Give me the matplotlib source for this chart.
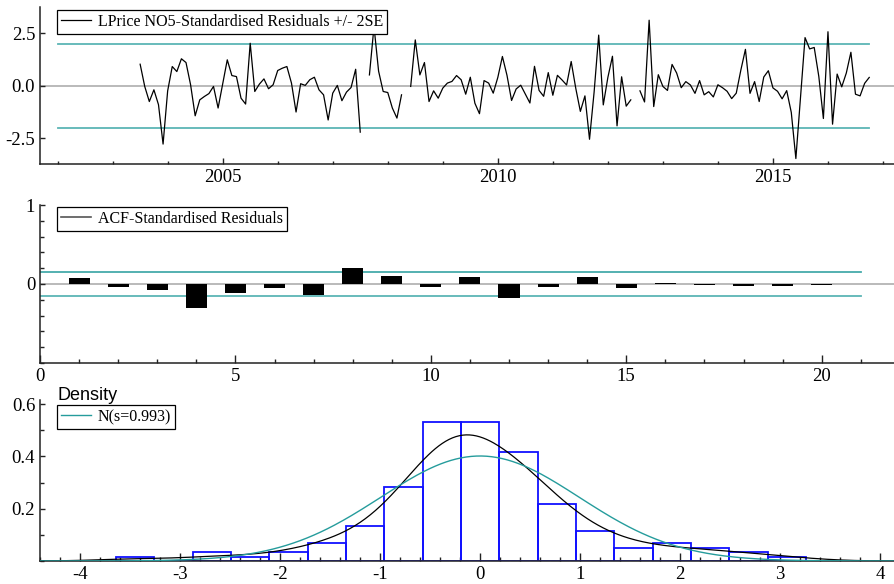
import numpy as np
import matplotlib
matplotlib.use("Agg")
import matplotlib.pyplot as plt
from matplotlib.ticker import MultipleLocator, FixedLocator

plt.rcParams['font.family'] = 'Liberation Serif'
plt.rcParams['axes.unicode_minus'] = False

# ----------------------------------------------
# Data
# ----------------------------------------------

# monthly standardised residuals, first obs 2003(7); nan = missing
start_year = 2003.5
resid = [
    1.03, -0.03, -0.75, -0.19, -0.90, -2.78, -0.24, 0.92, 0.68, 1.29,
    1.11, 0.05, -1.43, -0.67, -0.51, -0.37, -0.03, -1.06, 0.10, 1.24,
    0.49, 0.44, -0.59, -0.87, 2.03, -0.27, 0.08, 0.33, -0.14, 0.05,
    0.73, 0.84, 0.92, 0.13, -1.25, 0.10, 0.02, 0.29, 0.41, -0.19,
    -0.43, -1.63, -0.35, 0.02, -0.71, -0.30, -0.08, 0.79, -2.21, np.nan,
    0.52, 2.83, 0.70, -0.27, -0.32, -1.06, -1.54, -0.43, np.nan, -0.03,
    2.19, 0.52, 1.11, -0.75, -0.24, -0.59, -0.11, 0.13, 0.21, 0.49,
    0.29, -0.40, 0.41, -0.83, -1.33, 0.25, 0.13, -0.35, 0.40, 1.40,
    0.50, -0.70, -0.15, 0.03, -0.40, -0.82, 0.93, -0.22, -0.50, 0.63,
    -0.45, 0.50, 0.28, 0.04, 1.16, -0.12, -1.22, -0.48, -2.55, -0.30,
    2.42, -0.91, 0.40, 1.41, -1.91, 0.43, -0.97, -0.67, np.nan, -0.24,
    -0.77, 3.13, -0.99, 0.53, -0.03, -0.22, 1.02, 0.61, -0.09, 0.20,
    0.04, -0.36, 0.25, -0.43, -0.28, -0.53, 0.05, -0.09, -0.26, -0.61,
    -0.35, 0.75, 1.74, -0.36, 0.20, -0.75, 0.42, 0.72, -0.10, -0.26,
    -0.62, -0.23, -1.27, -3.47, -0.60, 2.30, 1.76, 1.83, 0.45, -1.56,
    2.58, -1.83, 0.56, -0.05, 0.61, 1.60, -0.40, -0.48, 0.12, 0.40,
]
se_band = 2.0

acf_lags = list(range(1, 21))
acf_vals = [0.072, -0.042, -0.076, -0.30, -0.11, -0.055, -0.139, 0.207, 0.101, -0.042,
            0.089, -0.181, -0.042, 0.089, -0.055, 0.010, -0.010, -0.025, -0.020, -0.008]
acf_band = 0.152

hist_edges = [-3.64, -3.257, -2.873, -2.49, -2.107, -1.723, -1.34, -0.957, -0.573, -0.19,
              0.193, 0.577, 0.96, 1.344, 1.727, 2.11, 2.494, 2.877, 3.26]
hist_dens = [0.017, 0.0, 0.033, 0.017, 0.033, 0.067, 0.133, 0.285, 0.533, 0.533,
             0.418, 0.217, 0.116, 0.050, 0.067, 0.050, 0.033, 0.017]
norm_s = 0.993

W, H = 894, 584
fig = plt.figure(figsize=(W / 100, H / 100), dpi=100)


def px_axes(left, top, right, bottom):
    return fig.add_axes([left / W, 1 - bottom / H, (right - left) / W, (bottom - top) / H])


def style(ax):
    for s in ["top", "right"]:
        ax.spines[s].set_visible(False)
    for s in ["left", "bottom"]:
        ax.spines[s].set_linewidth(1.1)
        ax.spines[s].set_color("#222222")
    ax.tick_params(which="both", direction="in", labelsize=13.5, width=1, color="#222222")
    ax.patch.set_alpha(0)


def add_legend(ax, top):
    leg = ax.legend(loc="upper left", frameon=True, fancybox=False, fontsize=11.5,
                    borderpad=0.25, handlelength=1.9, handletextpad=0.4, borderaxespad=0,
                    bbox_to_anchor=(57 / W, 1 - top / H), bbox_transform=fig.transFigure)
    leg.get_frame().set_edgecolor("black")
    leg.get_frame().set_linewidth(0.9)
    leg.get_frame().set_alpha(1)
    return leg


teal = "#259c9c"

# ----------------------------------------------
# Residuals
# ----------------------------------------------

r = np.array(resid, dtype=float)
t = start_year + np.arange(len(r)) / 12

ax1 = px_axes(40, 7, 894, 164)
style(ax1)
ax1.axhline(0, color="#b4b4b4", lw=1.3, zorder=1)
ax1.plot([2002, t[-1]], [se_band, se_band], color=teal, lw=1.3, alpha=0.75)
ax1.plot([2002, t[-1]], [-se_band, -se_band], color=teal, lw=1.3, alpha=0.75)
ax1.plot(t, r, color="black", lw=0.9, label="LPrice NO5-Standardised Residuals +/- 2SE")
ax1.set_xlim(2001.68, 2017.2)
ax1.set_ylim(-3.73, 3.76)
ax1.xaxis.set_major_locator(FixedLocator([2005, 2010, 2015]))
ax1.xaxis.set_minor_locator(FixedLocator(range(2002, 2018)))
ax1.yaxis.set_major_locator(FixedLocator([-2.5, 0, 2.5]))
ax1.yaxis.set_major_formatter(plt.FuncFormatter(lambda v, p: "%.1f" % v))
ax1.tick_params(axis="x", which="major", length=4)
ax1.tick_params(axis="x", which="minor", length=2.5)
ax1.tick_params(axis="y", length=3.5)
add_legend(ax1, 10)

# ----------------------------------------------
# ACF
# ----------------------------------------------

ax2 = px_axes(40, 205, 894, 363)
style(ax2)
ax2.axhline(0, color="#b4b4b4", lw=1.3, zorder=1)
ax2.plot([0, 21], [acf_band, acf_band], color=teal, lw=1.3, alpha=0.85)
ax2.plot([0, 21], [-acf_band, -acf_band], color=teal, lw=1.3, alpha=0.75)
ax2.bar(acf_lags, acf_vals, width=0.54, color="black", zorder=3)
ax2.plot([], [], color="#555555", lw=1.2, label="ACF-Standardised Residuals")
ax2.set_xlim(0, 21.85)
ax2.set_ylim(-1, 1)
ax2.xaxis.set_major_locator(FixedLocator([0, 5, 10, 15, 20]))
ax2.xaxis.set_minor_locator(FixedLocator(range(0, 22)))
ax2.yaxis.set_major_locator(FixedLocator([0, 1]))
ax2.yaxis.set_minor_locator(MultipleLocator(0.2))
ax2.tick_params(which="major", length=6)
ax2.tick_params(which="minor", length=2.8)
ax2.tick_params(axis="y", which="major", length=3.5)
add_legend(ax2, 207)

# ----------------------------------------------
# Density
# ----------------------------------------------

ax3 = px_axes(40, 400, 894, 561)
style(ax3)
edges = np.array(hist_edges)
ax3.bar(edges[:-1], hist_dens, width=np.diff(edges), align="edge", fill=False,
        edgecolor="#1010ff", lw=1.3, zorder=2)

xs = np.linspace(-4.4, 4.14, 500)
obs = r[~np.isnan(r)]
h = 0.37
kde = np.exp(-0.5 * ((xs[:, None] - obs[None, :]) / h) ** 2).sum(1) / (len(obs) * h * np.sqrt(2 * np.pi))
ax3.plot(xs, kde, color="black", lw=0.9, zorder=3)
ax3.plot(xs, np.exp(-0.5 * (xs / norm_s) ** 2) / (norm_s * np.sqrt(2 * np.pi)), color=teal,
         lw=1.0, zorder=3, label="N(s=0.993)")
ax3.set_xlim(-4.4, 4.14)
ax3.set_ylim(0, 0.616)
ax3.xaxis.set_major_locator(MultipleLocator(1))
ax3.xaxis.set_minor_locator(MultipleLocator(0.2))
ax3.yaxis.set_major_locator(FixedLocator([0.2, 0.4, 0.6]))
ax3.yaxis.set_minor_locator(MultipleLocator(0.1))
ax3.tick_params(which="major", length=5.5)
ax3.tick_params(which="minor", length=3)
ax3.tick_params(axis="y", which="major", length=3.5)
add_legend(ax3, 405)
fig.text(58 / W, 1 - 400 / H, "Density", family="Liberation Sans", fontsize=13, va="baseline")

fig.savefig("out.png", dpi=100)
